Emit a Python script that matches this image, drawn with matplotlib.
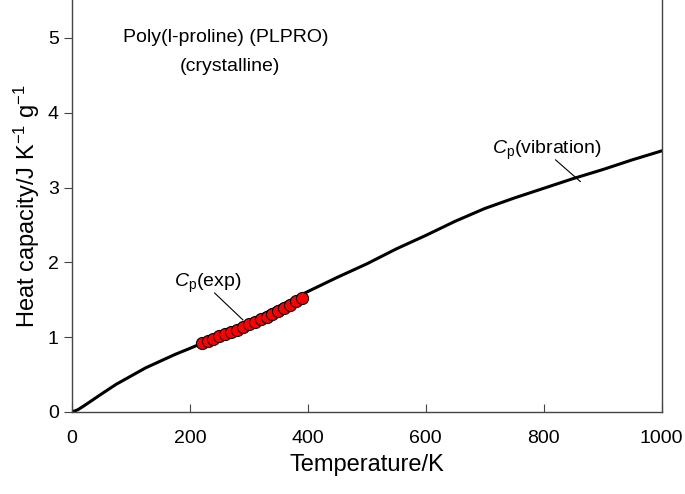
import numpy as np
import matplotlib
matplotlib.use("Agg")
import matplotlib.pyplot as plt

plt.rcParams['font.family'] = ['Liberation Sans', 'DejaVu Sans']
plt.rcParams['mathtext.fontset'] = 'custom'
plt.rcParams['mathtext.rm'] = 'Liberation Sans'
plt.rcParams['mathtext.it'] = 'Liberation Sans:italic'

# curva Cp(vibration)
t_vib = [0, 10, 20, 35, 50, 75, 100, 125, 150, 175, 200, 250, 300, 350, 400,
         450, 500, 550, 600, 650, 700, 750, 800, 850, 900, 950, 1000]
cp_vib = [0.0, 0.03, 0.08, 0.16, 0.24, 0.37, 0.48, 0.59, 0.68, 0.77, 0.85, 1.02,
          1.21, 1.41, 1.61, 1.80, 1.98, 2.18, 2.36, 2.55, 2.72, 2.86, 2.99,
          3.12, 3.24, 3.37, 3.49]

# puntos experimentales
t_exp = [220, 230, 240, 250, 260, 270, 280, 290, 300, 310, 320, 330, 340, 350,
         360, 370, 380, 390]
cp_exp = [0.92, 0.95, 0.98, 1.01, 1.04, 1.07, 1.10, 1.13, 1.17, 1.20, 1.24,
          1.27, 1.31, 1.35, 1.39, 1.43, 1.48, 1.53]

fig = plt.figure(figsize=(6.85, 4.94), dpi=100)
ax = fig.add_axes([0.105, 0.166, 0.861, 0.833])

ax.plot(t_vib, cp_vib, color='black', lw=2.2, zorder=2)
ax.plot(t_exp, cp_exp, 'o', ms=8.7, mfc='red', mec='black', mew=0.8, zorder=3)

ax.set_xlim(0, 1000)
ax.set_ylim(0, 5.5)
ax.set_xticks([0, 200, 400, 600, 800, 1000])
ax.set_yticks([0, 1, 2, 3, 4, 5])
ax.tick_params(axis='x', direction='in', length=6, labelsize=14, pad=13, color='#444444')
ax.tick_params(axis='y', direction='out', length=6, labelsize=14, color='#444444')
ax.spines['top'].set_visible(False)
for s in ['left', 'right', 'bottom']:
    ax.spines[s].set_color('#444444')
    ax.spines[s].set_linewidth(1.0)

ax.set_xlabel('Temperature/K', fontsize=17, labelpad=5)
ax.set_ylabel('Heat capacity/J K$^{-1}$ g$^{-1}$', fontsize=17, labelpad=4)

# etiquetas
ax.text(260, 5.0, 'Poly(l-proline) (PLPRO)', fontsize=14, ha='center', va='center')
ax.text(268, 4.62, '(crystalline)', fontsize=14, ha='center', va='center')

ax.text(230, 1.72, '$\\mathit{C}_\\mathrm{p}$(exp)', fontsize=14, ha='center', va='center')
ax.plot([242, 290], [1.59, 1.23], color='black', lw=0.8)

ax.text(805, 3.5, '$\\mathit{C}_\\mathrm{p}$(vibration)', fontsize=14, ha='center', va='center')
ax.plot([820, 862], [3.37, 3.08], color='black', lw=0.8)

fig.savefig('out.png', dpi=100)
